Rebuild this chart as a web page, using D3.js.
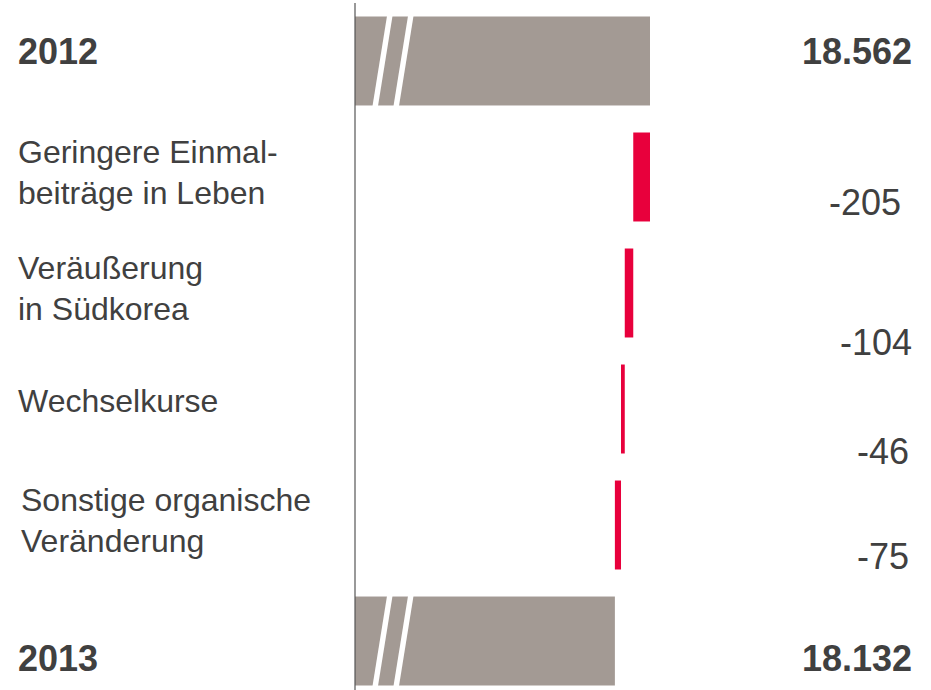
<!DOCTYPE html>
<html>
<head>
<meta charset="utf-8">
<script src="https://cdn.jsdelivr.net/npm/d3@7"></script>
<style>
  body { margin: 0; background: #fff; }
  text { font-family: Arial, "Liberation Sans", Helvetica, sans-serif; fill: #404040; }
</style>
</head>
<body>
<svg id="chart" width="931" height="690"></svg>
<script>
// data
const totalLabels = ["2012", "2013"];
const totalValues = [18562, 18132];
const changeLabels = [
    ["Geringere Einmal-", "beiträge in Leben"],
    ["Veräußerung", "in Südkorea"],
    ["Wechselkurse"],
    ["Sonstige organische", "Veränderung"]
];
const changeValues = [-205, -104, -46, -75];
const axisStart = 14950;   // broken axis, bars don't start at zero

// layout
const width = 931, height = 690;
const axisX = 355;
const rowKeys = ["start", "c0", "c1", "c2", "c3", "end"];

let svg = d3.select("#chart");

let x = d3.scaleLinear()
    .domain([axisStart, totalValues[0]])
    .range([axisX, 650]);

let y = d3.scaleBand()
    .domain(rowKeys)
    .range([16.5, 685.5])
    .paddingInner(0.233)
    .paddingOuter(0);

let fmt = d3.formatLocale({decimal: ",", thousands: ".", grouping: [3], currency: ["", "€"], minus: "-"}).format(",d");

// running totals for the waterfall
let steps = [];
let running = totalValues[0];
changeValues.forEach((v, i) => {
    steps.push({key: "c" + i, from: running, to: running + v, value: v, label: changeLabels[i]});
    running += v;
});

let totals = [
    {key: "start", value: totalValues[0], label: totalLabels[0], dy: 47},
    {key: "end", value: totalValues[1], label: totalLabels[1], dy: 74}
];

// total bars (grey)
let totalG = svg.selectAll(".total")
    .data(totals)
    .enter().append("g")
    .attr("class", "total");

totalG.append("rect")
    .attr("x", x(axisStart))
    .attr("y", d => y(d.key))
    .attr("width", d => x(d.value) - x(axisStart))
    .attr("height", y.bandwidth())
    .attr("fill", "#a39a94");

// axis break marks (two white slanted stripes)
[0, 21].forEach(off => {
    totalG.append("polygon")
        .attr("fill", "#fff")
        .attr("points", d => {
            let t = y(d.key) - 0.5, b = y(d.key) + y.bandwidth() + 0.5;
            let x0 = axisX + 32 + off;
            return [[x0, t], [x0 + 5.5, t], [x0 - 9, b], [x0 - 14.5, b]].join(" ");
        });
});

totalG.append("text")
    .attr("x", 18)
    .attr("y", d => y(d.key) + d.dy)
    .attr("font-size", 36)
    .attr("font-weight", "bold")
    .text(d => d.label);

totalG.append("text")
    .attr("x", 912)
    .attr("text-anchor", "end")
    .attr("y", d => y(d.key) + d.dy)
    .attr("font-size", 36)
    .attr("font-weight", "bold")
    .text(d => fmt(d.value));

// change bars (red)
svg.selectAll(".step")
    .data(steps)
    .enter().append("rect")
    .attr("class", "step")
    .attr("x", d => x(Math.min(d.from, d.to)))
    .attr("y", d => y(d.key))
    .attr("width", d => Math.abs(x(d.to) - x(d.from)))
    .attr("height", y.bandwidth())
    .attr("fill", "#e8003c");

// category labels
let labelG = svg.selectAll(".cat")
    .data(steps)
    .enter().append("text")
    .attr("class", "cat")
    .attr("font-size", 32)
    .attr("x", (d, i) => i === 3 ? 21 : 18)
    .attr("y", d => y(d.key) + (d.label.length > 1 ? 30 : 47));

labelG.selectAll("tspan")
    .data(d => d.label)
    .enter().append("tspan")
    .attr("x", function() { return this.parentNode.getAttribute("x"); })
    .attr("dy", (d, i) => i === 0 ? 0 : 41)
    .text(d => d);

// value labels (small nudges follow the original)
const valueNudge = [[-11, 38], [0, 62], [-3, 55], [-3, 44]];
svg.selectAll(".val")
    .data(steps)
    .enter().append("text")
    .attr("class", "val")
    .attr("text-anchor", "end")
    .attr("font-size", 36)
    .attr("x", (d, i) => 912 + valueNudge[i][0])
    .attr("y", (d, i) => y(d.key) + y.bandwidth() / 2 + valueNudge[i][1])
    .text(d => fmt(d.value));

// vertical base line
svg.append("line")
    .attr("x1", axisX).attr("x2", axisX)
    .attr("y1", 3).attr("y2", height)
    .attr("stroke", "#555")
    .attr("stroke-width", 1.2);
</script>
</body>
</html>
